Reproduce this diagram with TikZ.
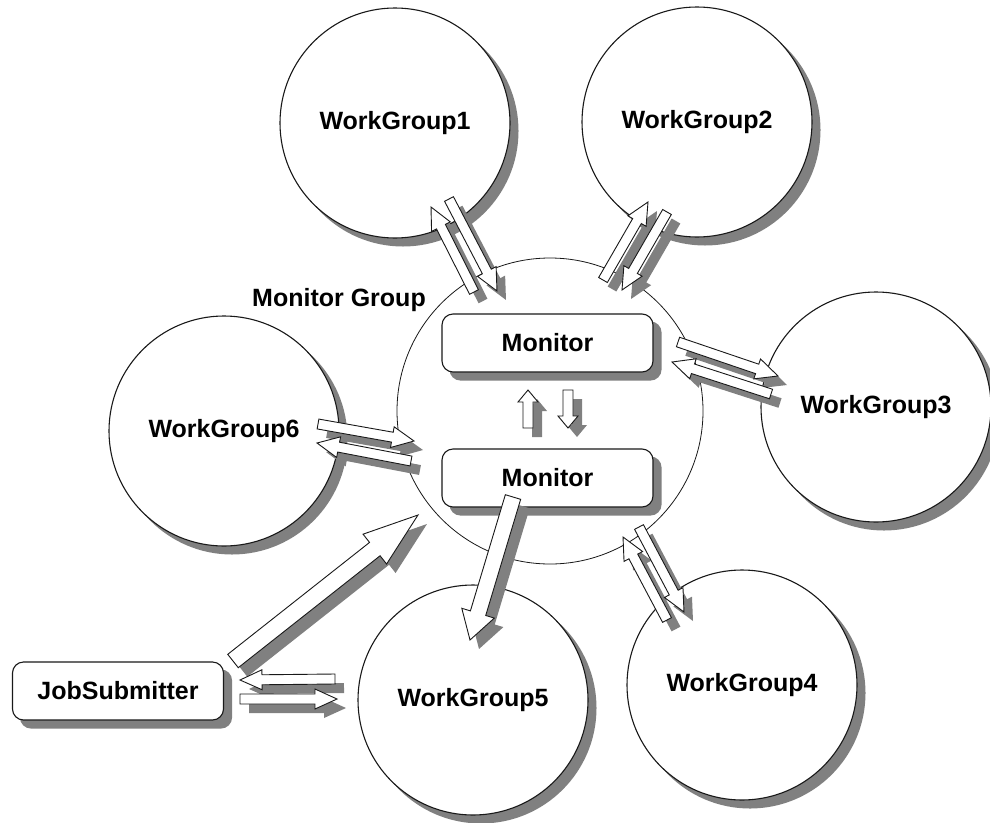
\documentclass[tikz,border=0pt]{standalone}
\usepackage{fontspec}
\setmainfont{Liberation Sans}
\usetikzlibrary{calc}

\definecolor{shadowgray}{RGB}{128,128,128}
\definecolor{inkline}{RGB}{25,25,25}

\pgfdeclarelayer{paper}
\pgfdeclarelayer{back}
\pgfsetlayers{paper,back,main}

% --- hollow block arrows with a flat drop shadow -------------------------
% sizes: shaft half-width, head half-width, head length
\newcommand\bksize[3]{\def\bkw{#1}\def\bkW{#2}\def\bkh{#3}}
\bksize{5pt}{10.5pt}{22pt}
\def\shdx{9}   % shadow offset to the right, points
\def\shdy{-9}  % shadow offset upwards (negative: downwards), points

% store start point, direction and length of an arrow from #1 to #2
\newcommand\bkgeom[2]{%
  \path #1 coordinate (bkA) #2 coordinate (bkB);%
  \pgfpointanchor{bkA}{center}\pgfgetlastxy{\bkx}{\bky}%
  \pgfpointanchor{bkB}{center}\pgfgetlastxy{\bkxx}{\bkyy}%
  \pgfmathsetmacro\bkang{atan2(\bkyy-\bky,\bkxx-\bkx)}%
  \pgfmathsetmacro\bklen{veclen(\bkxx-\bkx,\bkyy-\bky)}%
  \pgfmathsetmacro\bkneck{\bklen-\bkh}%
}
% draw the stored arrow outline with style #1, moved by (#2,#3) points
\newcommand\bkshape[3]{%
  \pgfmathsetmacro\bksx{\bkx+#2}%
  \pgfmathsetmacro\bksy{\bky+#3}%
  \begin{scope}[shift={(\bksx pt,\bksy pt)},rotate=\bkang]
    \path[#1] (0pt,-\bkw) -- (\bkneck pt,-\bkw) -- (\bkneck pt,-\bkW)
      -- (\bklen pt,0pt) -- (\bkneck pt,\bkW) -- (\bkneck pt,\bkw)
      -- (0pt,\bkw) -- cycle;
  \end{scope}}
\newcommand\onearrow[2]{%
  \bkgeom{#1}{#2}\bkshape{arrowshadow}{\shdx}{\shdy}\bkshape{arrowbody}{0}{0}}
% two arrows side by side: both shadows first, then both bodies
\newcommand\twoarrows[4]{%
  \bkgeom{#1}{#2}\bkshape{arrowshadow}{\shdx}{\shdy}%
  \bkgeom{#3}{#4}\bkshape{arrowshadow}{\shdx}{\shdy}%
  \bkgeom{#1}{#2}\bkshape{arrowbody}{0}{0}%
  \bkgeom{#3}{#4}\bkshape{arrowbody}{0}{0}}

\begin{document}
\begin{tikzpicture}[x=1pt,y=-1pt,
  txt/.style={font=\bfseries\fontsize{25}{30}\selectfont, text=black},
  group/.style={circle, draw=inkline, line width=1.1pt, fill=white,
      minimum size=230pt, inner sep=0pt, txt},
  hub/.style={circle, draw=inkline, line width=0.8pt, minimum size=306pt, inner sep=0pt},
  box/.style={rectangle, rounded corners=11pt, draw=inkline, line width=1.1pt,
      fill=white, minimum width=211pt, minimum height=58pt, txt},
  groupshadow/.style={fill=shadowgray},
  boxshadow/.style={fill=shadowgray, rounded corners=11pt},
  arrowshadow/.style={fill=shadowgray},
  arrowbody/.style={fill=white, draw=inkline, line width=0.9pt, line join=miter},
]
\useasboundingbox (0,0) rectangle (990,822);

% monitor group and the work groups around it
\node[hub] (mg) at (550,411) {};
\node[group] (wg1) at (395,123) {WorkGroup1};
\node[group] (wg2) at (697,122) {WorkGroup2};
\node[group] (wg3) at (876,407) {WorkGroup3};
\node[group] (wg4) at (742,685) {WorkGroup4};
\node[group] (wg5) at (473,700) {WorkGroup5};
\node[group] (wg6) at (224,431) {WorkGroup6};

% monitors and job submitter
\node[box] (mon1) at (547.5,343) {Monitor};
\node[box] (mon2) at (547.5,478) {Monitor};
\node[box] (js) at (118,691) {JobSubmitter};

\node[txt, anchor=base] (mglabel) at (339,306) {Monitor Group};

% paper and drop shadows of circles and boxes
\begin{pgfonlayer}{paper}
  \fill[white] (0,0) rectangle (990,822);
\end{pgfonlayer}
\begin{pgfonlayer}{back}
  \foreach \g in {wg1,wg2,wg3,wg4,wg5,wg6}
    \fill[groupshadow] ($(\g)+(8,8)$) circle[radius=115.5pt];
  \foreach \b in {mon1,mon2,js}
    \fill[boxshadow] ($(\b.north west)+(8,8)$) rectangle ($(\b.south east)+(8,8)$);
\end{pgfonlayer}

% links between the work groups and the monitor group
\bksize{5pt}{10.5pt}{22pt}
\twoarrows{($(mg)+(-76,-119)$)}{($(wg1)+(36,84)$)}{($(wg1)+(54,76)$)}{($(mg)+(-53,-120)$)}
\twoarrows{($(mg)+(53,-131)$)}{($(wg2)+(-49,80)$)}{($(wg2)+(-30,90)$)}{($(mg)+(72,-121)$)}
\twoarrows{($(mg)+(128,-69)$)}{($(wg3)+(-98,-31)$)}{($(wg3)+(-105,-13)$)}{($(mg)+(122,-49)$)}
\twoarrows{($(wg6)+(94,-7)$)}{($(mg)+(-136,30)$)}{($(mg)+(-139,50)$)}{($(wg6)+(93,12)$)}
\twoarrows{($(wg4)+(-75,-65)$)}{($(mg)+(73,126)$)}{($(mg)+(89,116)$)}{($(wg4)+(-58,-73)$)}

% monitor group to WorkGroup5
\bksize{8pt}{17pt}{28pt}
\onearrow{($(mg)+(-37,86)$)}{($(wg5)+(-3,-60)$)}

% job submitter to the monitor group
\bksize{8.5pt}{19pt}{55pt}
\onearrow{($(js)+(115,-30)$)}{($(mg)+(-132,104)$)}

% job submitter and WorkGroup5
\bksize{5pt}{10pt}{22pt}
\twoarrows{($(wg5)+(-138,-21)$)}{($(js)+(122,-11)$)}{($(js)+(122,8)$)}{($(wg5)+(-136,-1)$)}

% between the two monitors
\bksize{5pt}{10pt}{12pt}
\twoarrows{($(mon2)+(-19.5,-50)$)}{($(mon1)+(-19.5,47)$)}{($(mon1)+(20.5,47)$)}{($(mon2)+(20.5,-50)$)}
\end{tikzpicture}
\end{document}
